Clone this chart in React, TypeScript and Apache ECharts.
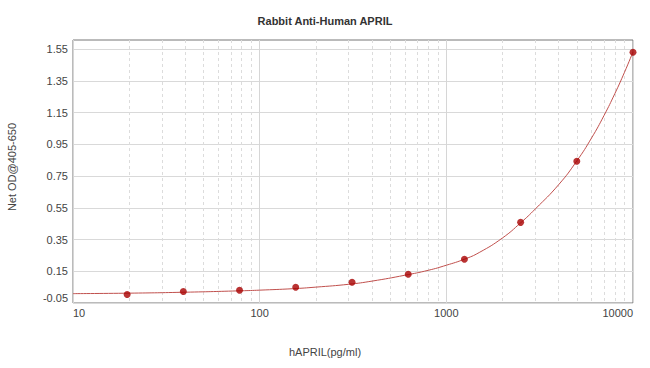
import React, { useEffect, useRef } from "react";
import * as echarts from "echarts";

const titleText = "Rabbit Anti-Human APRIL";
const xName = "hAPRIL(pg/ml)";
const yName = "Net OD@405-650";

// standards (pg/ml) and measured OD
const concentrations = [19.5, 39, 78, 156, 312.5, 625, 1250, 2500, 5000, 10000];
const odValues = [0.003, 0.022, 0.03, 0.049, 0.081, 0.131, 0.226, 0.458, 0.843, 1.53];

// fitted curve
const curveX = [10, 20, 40, 80, 100, 150, 200, 300, 400, 600, 800, 1000, 1250, 1500, 2000, 2500, 3000, 4000, 5000, 6000, 7000, 8000, 9000, 10000];
const curveY = [0.009, 0.012, 0.018, 0.027, 0.031, 0.04, 0.05, 0.068, 0.088, 0.125, 0.156, 0.188, 0.226, 0.268, 0.36, 0.455, 0.543, 0.696, 0.845, 0.99, 1.132, 1.27, 1.403, 1.532];

const yTicks = [-0.05, 0.15, 0.35, 0.55, 0.75, 0.95, 1.15, 1.35, 1.55];
const xMinorTicks = [20, 30, 40, 50, 60, 70, 80, 90, 200, 300, 400, 500, 600, 700, 800, 900, 2000, 3000, 4000, 5000, 6000, 7000, 8000, 9000];

const FONT = "Liberation Sans, Arial, sans-serif";

export default function App() {
  const ref = useRef<HTMLDivElement>(null);
  useEffect(() => {
    if (!ref.current) return;
    const chart = echarts.init(ref.current, undefined, { renderer: "svg" });
    chart.setOption({
      animation: false,
      backgroundColor: "#ffffff",
      textStyle: { fontFamily: FONT },
      title: {
        text: titleText,
        left: "center",
        top: 10,
        textStyle: { fontSize: 11, fontWeight: "bold", color: "#333", fontFamily: FONT },
      },
      grid: {
        left: 73,
        right: 17,
        top: 40,
        bottom: 65,
        show: true,
        borderColor: "#777",
        borderWidth: 1,
        backgroundColor: "transparent",
      },
      xAxis: [
        {
          type: "log",
          logBase: 10,
          min: 10,
          max: 10000,
          axisLine: { show: false },
          axisTick: { show: false },
          axisLabel: {
            color: "#444",
            fontSize: 11,
            fontFamily: FONT,
            margin: 4,
            alignMinLabel: "left",
            alignMaxLabel: "right",
            formatter: (v: number) => String(Math.round(v)),
          },
          splitLine: { show: true, lineStyle: { color: "#d6d6d6", width: 1, type: "solid" } },
        },
        {
          type: "log",
          logBase: 10,
          min: 10,
          max: 10000,
          position: "bottom",
          axisLine: { show: false },
          axisTick: { show: false, customValues: xMinorTicks },
          axisLabel: { show: false, customValues: xMinorTicks },
          splitLine: { show: true, lineStyle: { color: "#dcdcdc", width: 1, type: [3, 3] } },
        },
      ],
      yAxis: {
        type: "value",
        min: -0.05,
        max: 1.607,
        axisLine: { show: false },
        axisTick: { show: false, customValues: yTicks },
        axisLabel: {
          color: "#444",
          fontSize: 11,
          fontFamily: FONT,
          margin: 5,
          customValues: yTicks,
          verticalAlignMinLabel: "bottom",
          formatter: (v: number) => v.toFixed(2),
        },
        splitLine: { show: true, lineStyle: { color: "#d9d9d9", width: 1 } },
      },
      graphic: [
        {
          type: "text",
          left: "center",
          top: 346,
          style: { text: xName, fontSize: 11, fill: "#444", fontFamily: FONT },
        },
        {
          type: "text",
          x: 12,
          y: 167,
          rotation: Math.PI / 2,
          style: {
            text: yName,
            fontSize: 11,
            fill: "#444",
            fontFamily: FONT,
            align: "center",
            verticalAlign: "middle",
          },
        },
      ],
      series: [
        {
          type: "line",
          xAxisIndex: 0,
          data: curveX.map((x, i) => [x, curveY[i]]),
          smooth: true,
          showSymbol: false,
          lineStyle: { color: "#c0504d", width: 1 },
          silent: true,
          z: 2,
        },
        {
          type: "scatter",
          xAxisIndex: 0,
          data: concentrations.map((x, i) => [x, odValues[i]]),
          symbol: "circle",
          symbolSize: 7,
          itemStyle: { color: "#a80000" },
          z: 3,
        },
      ],
    });
    return () => chart.dispose();
  }, []);
  return (
    <div
      ref={ref}
      style={{ position: "absolute", left: 0, top: 0, width: 650, height: 368 }}
    />
  );
}
